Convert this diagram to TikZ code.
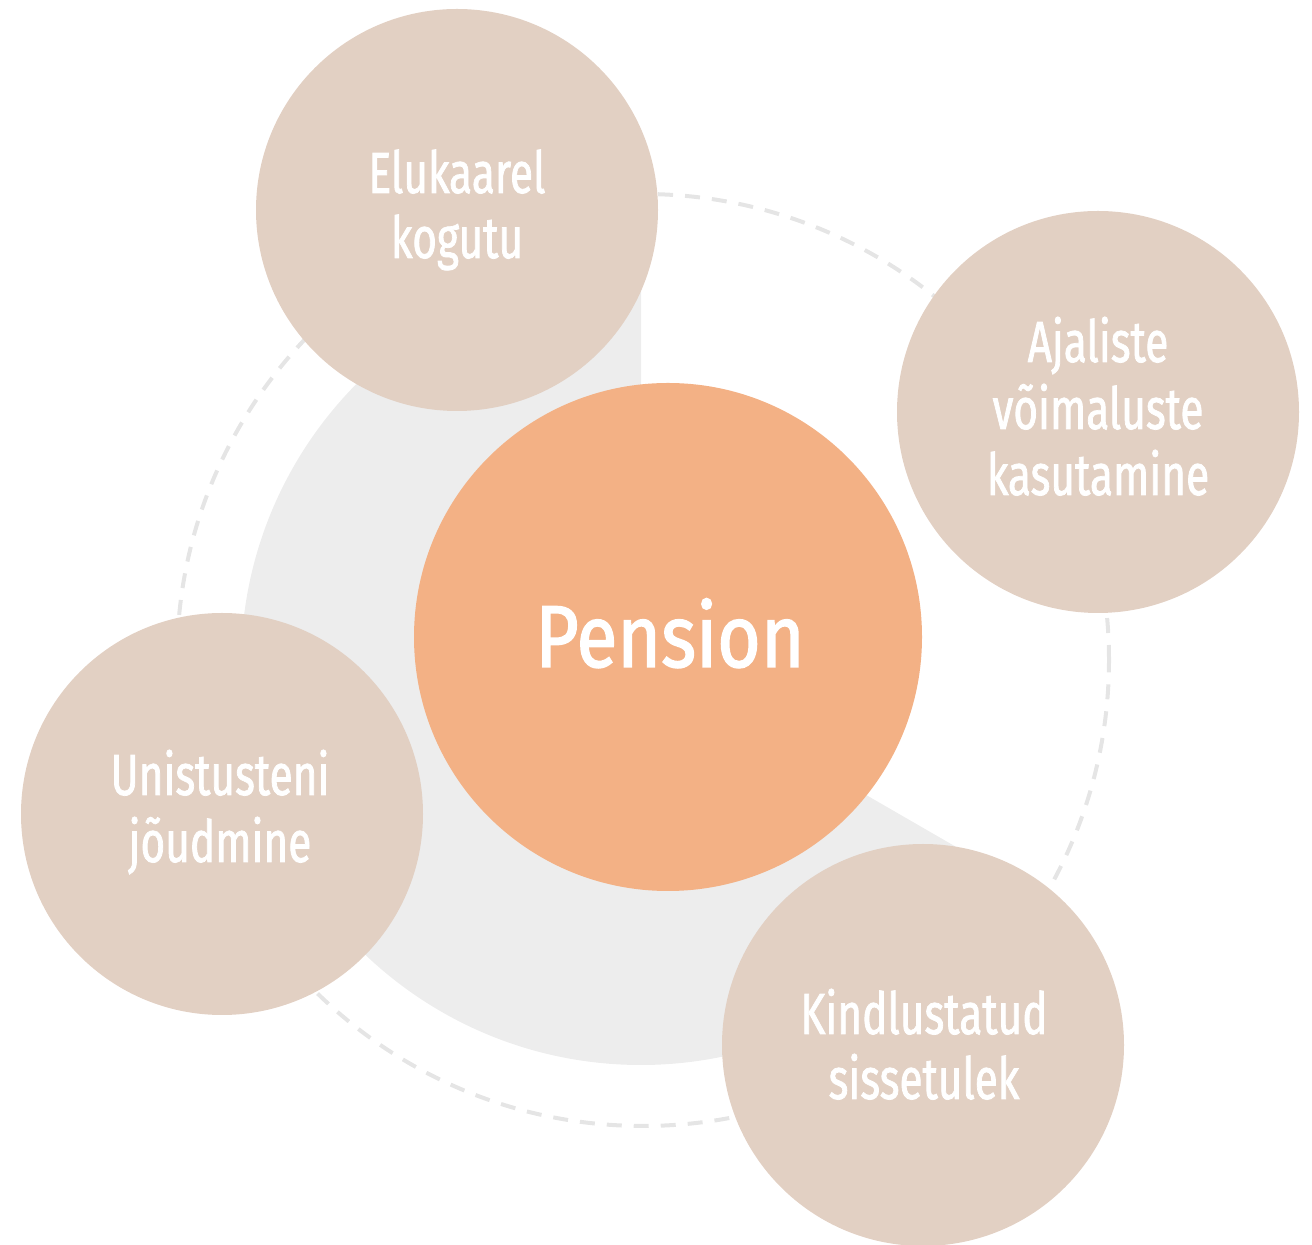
\documentclass[tikz,border=0pt]{standalone}
\usepackage{fontspec}
\setmainfont{Fira Sans}[FakeStretch=0.73, FakeBold=1.3]
\newfontfamily\bigfont{Fira Sans}[FakeStretch=0.85, FakeBold=1.6]
\definecolor{beige}{RGB}{226,208,195}
\definecolor{orangec}{RGB}{243,177,133}
\definecolor{grayfill}{RGB}{237,237,237}
\definecolor{dashc}{RGB}{229,229,229}
\begin{document}
\begin{tikzpicture}[x=1pt,y=1pt,
  bub/.style={circle, fill=beige, draw=none, minimum size=402pt, inner sep=0pt},
  core/.style={circle, fill=orangec, draw=none, minimum size=508pt, inner sep=0pt},
  lbl/.style={anchor=base, text=white, inner sep=0pt, font=\fontsize{58}{66}\selectfont},
  big/.style={anchor=base, text=white, inner sep=0pt, font=\bigfont\fontsize{88}{100}\selectfont}]
\useasboundingbox (0,0) rectangle (1312,1245);
% dashed ring
\draw[dashc, line width=4pt, dash pattern=on 15pt off 12pt] (643,585) circle[radius=466pt];
% gray sector
\coordinate (gc) at (641,580);
\fill[grayfill] (gc) -- ++(90:400pt) arc[start angle=90, end angle=330, radius=400pt] -- cycle;
% outer circles
\node[bub] (e) at (457,1035) {};
\node[bub] (a) at (1098,833) {};
\node[bub] (u) at (222,431) {};
\node[bub] (k) at (923,200) {};
% central circle
\node[core] (p) at (668,608) {};
% labels
\node[lbl] (e1) at (457,1052) {Elukaarel};
\node[lbl] (e2) at (457,987) {kogutu};
\node[lbl] (a1) at (1098,883) {Ajaliste};
\node[lbl] (a2) at (1098,816) {võimaluste};
\node[lbl] (a3) at (1098,750) {kasutamine};
\node[lbl] (u1) at (220,450) {Unistusteni};
\node[lbl] (u2) at (220,383) {jõudmine};
\node[lbl] (k1) at (924,211) {Kindlustatud};
\node[lbl] (k2) at (924,146) {sissetulek};
\node[big] (p1) at (670,578) {Pension};
\end{tikzpicture}
\end{document}
